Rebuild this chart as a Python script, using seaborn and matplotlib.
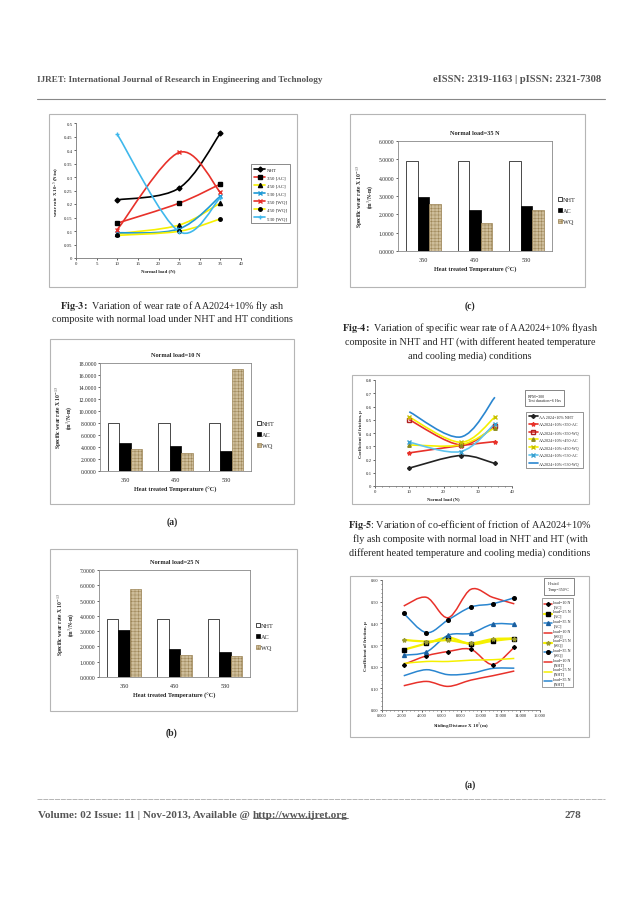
import numpy as np
import pandas as pd
import matplotlib
matplotlib.use("Agg")
import matplotlib.pyplot as plt
from matplotlib.path import Path
from matplotlib.patches import PathPatch, Rectangle
from matplotlib.lines import Line2D
import seaborn as sns

# ---------------- data ----------------
# Fig-3: wear rate vs normal load
load = [10, 25, 35]
wear_nht = [0.215, 0.259, 0.462]
wear_350ac = [0.129, 0.203, 0.274]
wear_450ac = [0.090, 0.122, 0.204]
wear_530ac = [0.093, 0.108, 0.229]
wear_350wq = [0.105, 0.391, 0.243]
wear_450wq = [0.084, 0.099, 0.145]
wear_530wq = [0.458, 0.098, 0.224]
wear_labels = ["NHT", "350 [AC]", "450 [AC]", "530 [AC]", "350 [WQ]", "450 [WQ]", "530 [WQ]"]

# Fig-4: specific wear rate bars
temps = ["350", "450", "530"]
sw10_nht = [8.0, 8.0, 8.0]
sw10_ac = [4.72, 4.15, 3.38]
sw10_wq = [3.72, 3.08, 17.05]
sw25_nht = [3.82, 3.82, 3.82]
sw25_ac = [3.05, 1.81, 1.66]
sw25_wq = [5.78, 1.47, 1.37]
sw35_nht = [4.91, 4.91, 4.91]
sw35_ac = [2.94, 2.22, 2.43]
sw35_wq = [2.58, 1.53, 2.21]

# Fig-5: coefficient of friction vs normal load
cof_nht = [0.135, 0.230, 0.170]
cof_350ac = [0.250, 0.305, 0.335]
cof_350wq = [0.500, 0.310, 0.455]
cof_450ac = [0.310, 0.310, 0.440]
cof_450wq = [0.520, 0.330, 0.520]
cof_530ac = [0.330, 0.260, 0.470]
cof_530wq = [0.560, 0.370, 0.670]
cof_labels = ["AA 2024+10% NHT", "AA2024+10%+350-AC", "AA2024+10%+350-WQ",
              "AA2024+10%+450-AC", "AA2024+10%+450-WQ", "AA2024+10%+530-AC",
              "AA2024+10%+530-WQ"]

# Fig-5(a): coefficient of friction vs sliding distance
dist = [2.2, 4.5, 6.7, 9.0, 11.2, 13.4]
mu_10ac = [0.21, 0.25, 0.27, 0.28, 0.21, 0.29]
mu_25ac = [0.278, 0.307, 0.334, 0.304, 0.319, 0.33]
mu_35ac = [0.253, 0.268, 0.345, 0.354, 0.396, 0.396]
mu_10wq = [0.48, 0.52, 0.426, 0.557, 0.52, 0.49]
mu_25wq = [0.324, 0.316, 0.322, 0.308, 0.327, 0.33]
mu_35wq = [0.446, 0.357, 0.416, 0.475, 0.49, 0.518]
mu_10nht = [0.112, 0.132, 0.109, 0.138, 0.158, 0.18]
mu_25nht = [0.215, 0.224, 0.224, 0.23, 0.232, 0.238]
mu_35nht = [0.158, 0.186, 0.163, 0.169, 0.192, 0.193]
mu_labels = ["load=10 N\n[AC]", "load=25 N\n[AC]", "load=35 N\n[AC]",
             "load=10 N\n[WQ]", "load=25 N\n[WQ]", "load=35 N\n[WQ]",
             "load=10 N\n[NHT]", "load=25 N\n[NHT]", "load=35 N\n[NHT]"]

# ---------------- style ----------------
sns.set_style("white")
plt.rcParams['font.family'] = ['Liberation Serif', 'DejaVu Serif']
plt.rcParams['mathtext.fontset'] = 'stix'
plt.rcParams['hatch.linewidth'] = 0.35

RED = '#e8312a'
YEL = '#f5f000'
TEAL = '#1f9ad6'
LBLUE = '#3fb8ec'
BLUE = '#2a86d0'
GREY = '#555555'

W, H = 638, 903
fig = plt.figure(figsize=(W / 100, H / 100), dpi=100)


def rect(x0, y0, x1, y1):
    return [x0 / W, 1 - y1 / H, (x1 - x0) / W, (y1 - y0) / H]


def frame(x0, y0, x1, y1):
    fig.patches.append(Rectangle((x0 / W, 1 - y1 / H), (x1 - x0) / W, (y1 - y0) / H,
                                 transform=fig.transFigure, fill=False,
                                 ec='#b5b5b5', lw=0.8))


def ftext(x, y, s, **kw):
    return fig.text(x / W, 1 - y / H, s, **kw)


def smooth_path(x, y):
    # excel style smoothed line (bezier through the points)
    pts = np.column_stack([x, y]).astype(float)
    n = len(pts)
    verts = [pts[0]]
    codes = [Path.MOVETO]
    for i in range(n - 1):
        p0, p1 = pts[max(i - 1, 0)], pts[i]
        p2, p3 = pts[i + 1], pts[min(i + 2, n - 1)]
        verts += [p1 + (p2 - p0) / 6, p2 - (p3 - p1) / 6, p2]
        codes += [Path.CURVE4] * 3
    return Path(verts, codes)


def smooth_line(ax, x, y, color, lw=1.2, marker=None, mfc=None, mec=None, ms=3):
    ax.add_patch(PathPatch(smooth_path(x, y), fill=False, edgecolor=color, lw=lw, zorder=2))
    if marker:
        ax.plot(x, y, ls='none', marker=marker, mfc=mfc, mec=mec, ms=ms, zorder=3)
    return Line2D([], [], color=color, lw=lw, marker=marker, mfc=mfc, mec=mec, ms=ms)


def style_line_axes(ax):
    sns.despine(ax=ax)
    for s in ['left', 'bottom']:
        ax.spines[s].set_color('#777777')
        ax.spines[s].set_linewidth(0.6)
    ax.tick_params(labelsize=3.5, length=1.5, width=0.5, pad=1, direction='out',
                   left=True, bottom=True)
    ax.set_facecolor('white')


def fmt_g(v, pos):
    return f"{v:g}"


# ---------------- page text ----------------
ftext(37, 80, "IJRET: International Journal of Research in Engineering and Technology",
      fontsize=6.6, fontweight='bold', color=GREY, va='center')
ftext(601, 80, "eISSN: 2319-1163 | pISSN: 2321-7308", fontsize=7.6, fontweight='bold',
      color=GREY, va='center', ha='right')
fig.add_artist(Line2D([37 / W, 605 / W], [1 - 100 / H, 1 - 100 / H], color='#888888', lw=0.8))
fig.add_artist(Line2D([37 / W, 605 / W], [1 - 800 / H, 1 - 800 / H], color='#aaaaaa', lw=0.6,
                      ls=(0, (6, 1))))
t1 = ftext(38, 816, "Volume: 02 Issue: 11 | Nov-2013, Available @ ", fontsize=8,
           fontweight='bold', color=GREY, va='center')
renderer = fig.canvas.get_renderer()
bb = t1.get_window_extent(renderer)
t2 = fig.text(bb.x1 / W, 1 - 816 / H, "http://www.ijret.org", fontsize=8, fontweight='bold',
              color=GREY, va='center', ha='left')
bb2 = t2.get_window_extent(renderer)
fig.add_artist(Line2D([bb2.x0 / W, bb2.x1 / W], [(bb2.y0 + 1.5) / H, (bb2.y0 + 1.5) / H],
                      color=GREY, lw=0.6))
ftext(573, 816, "278", fontsize=8, fontweight='bold', color=GREY, va='center', ha='center')

# captions
ftext(172, 306, r"$\bf{Fig\text{-}3:}$ Variation of wear rate of AA2024+10% fly ash",
      fontsize=7.3, ha='center', va='center')
ftext(172, 320, "composite with normal load under NHT and HT conditions",
      fontsize=7.3, ha='center', va='center')
ftext(172, 522, "(a)", fontsize=7, fontweight='bold', ha='center', va='center')
ftext(172, 733, "(b)", fontsize=7, fontweight='bold', ha='center', va='center')
ftext(470, 306, "(c)", fontsize=7, fontweight='bold', ha='center', va='center')
ftext(470, 328, r"$\bf{Fig\text{-}4:}$ Variation of specific wear rate of AA2024+10% flyash",
      fontsize=7.3, ha='center', va='center')
ftext(470, 342, "composite in NHT and HT (with different heated temperature",
      fontsize=7.3, ha='center', va='center')
ftext(470, 356, "and cooling media) conditions", fontsize=7.3, ha='center', va='center')
ftext(470, 525, r"$\bf{Fig\text{-}5}$: Variation of co-efficient of friction of AA2024+10%",
      fontsize=7.3, ha='center', va='center')
ftext(470, 539, "fly ash composite with normal load in NHT and HT (with",
      fontsize=7.3, ha='center', va='center')
ftext(470, 553, "different heated temperature and cooling media) conditions",
      fontsize=7.3, ha='center', va='center')
ftext(470, 785, "(a)", fontsize=7, fontweight='bold', ha='center', va='center')

# ---------------- Fig-3 ----------------
frame(49, 115, 297, 288)
ax = fig.add_axes(rect(76, 124, 241, 259))
h = [
    smooth_line(ax, load, wear_nht, 'black', marker='D', mfc='black', mec='black', ms=2.5),
    smooth_line(ax, load, wear_350ac, RED, marker='s', mfc='black', mec='black', ms=3),
    smooth_line(ax, load, wear_450ac, YEL, marker='^', mfc='black', mec='black', ms=3),
    smooth_line(ax, load, wear_530ac, TEAL, marker='x', mfc=TEAL, mec=TEAL, ms=3),
    smooth_line(ax, load, wear_350wq, RED, marker='x', mfc=RED, mec=RED, ms=3),
    smooth_line(ax, load, wear_450wq, YEL, marker='o', mfc='black', mec='black', ms=2.5),
    smooth_line(ax, load, wear_530wq, LBLUE, marker='+', mfc=LBLUE, mec=LBLUE, ms=3.5),
]
ax.set_xlim(0, 40)
ax.set_ylim(0, 0.5)
ax.set_xticks(np.arange(0, 41, 5))
ax.set_yticks(np.arange(0, 0.501, 0.05))
ax.xaxis.set_major_formatter(plt.FuncFormatter(fmt_g))
ax.yaxis.set_major_formatter(plt.FuncFormatter(fmt_g))
style_line_axes(ax)
ax.set_xlabel("Normal load (N)", fontsize=3.5, fontweight='bold', labelpad=2)
ax.set_ylabel(r"wear rate X 10$^{-5}$ (N/m)", fontsize=3.5, fontweight='bold', labelpad=2)
leg = fig.legend(h, wear_labels, loc='upper left', bbox_to_anchor=(249 / W, 1 - 163 / H),
                 fontsize=3.5, frameon=True, fancybox=False, handlelength=2.2,
                 labelspacing=0.75, borderpad=0.6, handletextpad=0.4)
leg.get_frame().set_edgecolor('#333333')
leg.get_frame().set_linewidth(0.5)


# ---------------- Fig-4 bar charts ----------------
def bar_chart(box, frm, title, nht, ac, wq, ymax, leg_y):
    frame(*frm)
    ax = fig.add_axes(rect(*box))
    df = pd.DataFrame({
        "temp": temps * 3,
        "rate": nht + ac + wq,
        "cond": ["NHT"] * 3 + ["AC"] * 3 + ["WQ"] * 3,
    })
    sns.barplot(data=df, x="temp", y="rate", hue="cond", ax=ax, width=0.68,
                palette={"NHT": "white", "AC": "black", "WQ": "#d6c092"},
                edgecolor="black", linewidth=0.5, legend=False)
    for bar in ax.containers[2]:
        bar.set_hatch('+++++')
        bar.set_edgecolor('#9c8456')
    ax.set_ylim(0, ymax)
    ax.set_yticks(np.arange(0, ymax + 0.01, 2 if ymax > 10 else 1))
    ax.yaxis.set_major_formatter(plt.FormatStrFormatter('%.4f'))
    for s in ax.spines.values():
        s.set_visible(True)
        s.set_color('#888888')
        s.set_linewidth(0.6)
    ax.tick_params(axis='y', labelsize=4, length=1.5, width=0.5, pad=1, left=True)
    ax.tick_params(axis='x', labelsize=4.5, length=0, pad=4)
    ax.set_title(title, fontsize=4.5, fontweight='bold', pad=5)
    ax.set_xlabel("Heat treated Temperature (°C)", fontsize=4.5, fontweight='bold', labelpad=3)
    ax.set_ylabel("Specific wear rate X 10$^{-13}$\n(m$^3$/N-m)", fontsize=4,
                  fontweight='bold', labelpad=2, linespacing=1.1)
    ax.legend(ax.containers, ["NHT", "AC", "WQ"], loc='center left',
              bbox_to_anchor=(1.0, leg_y), frameon=False, fontsize=4.5,
              handlelength=0.7, handleheight=0.7, handletextpad=0.2,
              labelspacing=0.9)
    return ax


bar_chart((100, 364, 251, 472), (50, 340, 294, 505), "Normal load=10 N",
          sw10_nht, sw10_ac, sw10_wq, 18, 0.34)
bar_chart((99, 571, 250, 678), (50, 550, 297, 712), "Normal load=25 N",
          sw25_nht, sw25_ac, sw25_wq, 7, 0.38)
bar_chart((398, 142, 552, 252), (350, 115, 585, 288), "Normal load=35 N",
          sw35_nht, sw35_ac, sw35_wq, 6, 0.37)

# ---------------- Fig-5 ----------------
frame(352, 376, 589, 505)
ax = fig.add_axes(rect(375, 381, 512, 487))
h = [
    smooth_line(ax, load, cof_nht, '#222222', marker='D', mfc='#222222', mec='#222222', ms=2),
    smooth_line(ax, load, cof_350ac, RED, marker='*', mfc=RED, mec=RED, ms=3),
    smooth_line(ax, load, cof_350wq, RED, marker='s', mfc='none', mec='#b02020', ms=2.5),
    smooth_line(ax, load, cof_450ac, YEL, marker='^', mfc='#8a8a20', mec='#8a8a20', ms=2.5),
    smooth_line(ax, load, cof_450wq, YEL, marker='x', mfc=YEL, mec='#c8c000', ms=3),
    smooth_line(ax, load, cof_530ac, '#5ec4ee', marker='x', mfc='#5ec4ee', mec='#3aa0d0', ms=3),
    smooth_line(ax, load, cof_530wq, BLUE),
]
ax.set_xlim(0, 40)
ax.set_ylim(0, 0.8)
ax.set_xticks(np.arange(0, 41, 10))
ax.set_yticks(np.arange(0, 0.81, 0.1))
ax.xaxis.set_major_formatter(plt.FuncFormatter(fmt_g))
ax.yaxis.set_major_formatter(plt.FuncFormatter(fmt_g))
ax.set_xticks(np.arange(0, 41, 2), minor=True)
style_line_axes(ax)
ax.tick_params(which='minor', length=1, width=0.4, bottom=True)
ax.set_xlabel("Normal load (N)", fontsize=3.3, fontweight='bold', labelpad=2)
ax.set_ylabel("Coefficient of friction, μ", fontsize=3.3, fontweight='bold', labelpad=2)
ftext(528, 399, "RPM=300\nTest duration=6 Hrs", fontsize=3, va='center', ha='left',
      linespacing=1.3, bbox=dict(boxstyle='square,pad=0.8', fc='white', ec='#555555', lw=0.5))
leg = fig.legend(h, cof_labels, loc='upper left', bbox_to_anchor=(524 / W, 1 - 411 / H),
                 fontsize=3, frameon=True, fancybox=False, handlelength=2.2,
                 labelspacing=0.9, borderpad=0.6, handletextpad=0.4)
leg.get_frame().set_edgecolor('#444444')
leg.get_frame().set_linewidth(0.5)

# ---------------- Fig-5(a) ----------------
frame(350, 577, 589, 738)
ax = fig.add_axes(rect(382, 581, 540, 711))
h = [
    smooth_line(ax, dist, mu_10ac, RED, lw=1.1, marker='D', mfc='black', mec='black', ms=2),
    smooth_line(ax, dist, mu_25ac, YEL, lw=1.6, marker='s', mfc='black', mec='black', ms=3),
    smooth_line(ax, dist, mu_35ac, BLUE, lw=1.1, marker='^', mfc='#1a5fa0', mec='#1a5fa0', ms=2.8),
    smooth_line(ax, dist, mu_10wq, RED, lw=1.1),
    smooth_line(ax, dist, mu_25wq, YEL, lw=1.6, marker='*', mfc='#9a9a30', mec='#9a9a30', ms=3),
    smooth_line(ax, dist, mu_35wq, BLUE, lw=1.1, marker='o', mfc='black', mec='black', ms=2.6),
    smooth_line(ax, dist, mu_10nht, RED, lw=1.1),
    smooth_line(ax, dist, mu_25nht, YEL, lw=1.1),
    smooth_line(ax, dist, mu_35nht, BLUE, lw=1.1),
]
ax.set_xlim(0, 16)
ax.set_ylim(0, 0.6)
ax.set_xticks(np.arange(0, 16.01, 2))
ax.set_yticks(np.arange(0, 0.601, 0.1))
ax.xaxis.set_major_formatter(plt.FormatStrFormatter('%.3f'))
ax.yaxis.set_major_formatter(plt.FormatStrFormatter('%.2f'))
ax.set_xticks(np.arange(0, 16.01, 0.4), minor=True)
ax.set_yticks(np.arange(0, 0.601, 0.02), minor=True)
style_line_axes(ax)
ax.tick_params(which='minor', length=1, width=0.4, bottom=True, left=True)
ax.tick_params(labelsize=3.2)
ax.set_xlabel("Sliding Distance X 10$^3$(m)", fontsize=3.5, fontweight='bold', labelpad=2)
ax.set_ylabel("Coefficient of friction, μ", fontsize=3.5, fontweight='bold', labelpad=2)
ftext(548, 587, "Heated\nTemp=350°C", fontsize=3, va='center', ha='left', linespacing=1.5,
      bbox=dict(boxstyle='square,pad=0.9', fc='white', ec='#555555', lw=0.5))
leg = fig.legend(h, mu_labels, loc='upper left', bbox_to_anchor=(540 / W, 1 - 597 / H),
                 fontsize=3, frameon=True, fancybox=False, handlelength=2.0,
                 labelspacing=0.25, borderpad=0.4, handletextpad=0.3)
leg.get_frame().set_edgecolor('#555555')
leg.get_frame().set_linewidth(0.5)

fig.savefig("out.png", dpi=100, facecolor='white')
